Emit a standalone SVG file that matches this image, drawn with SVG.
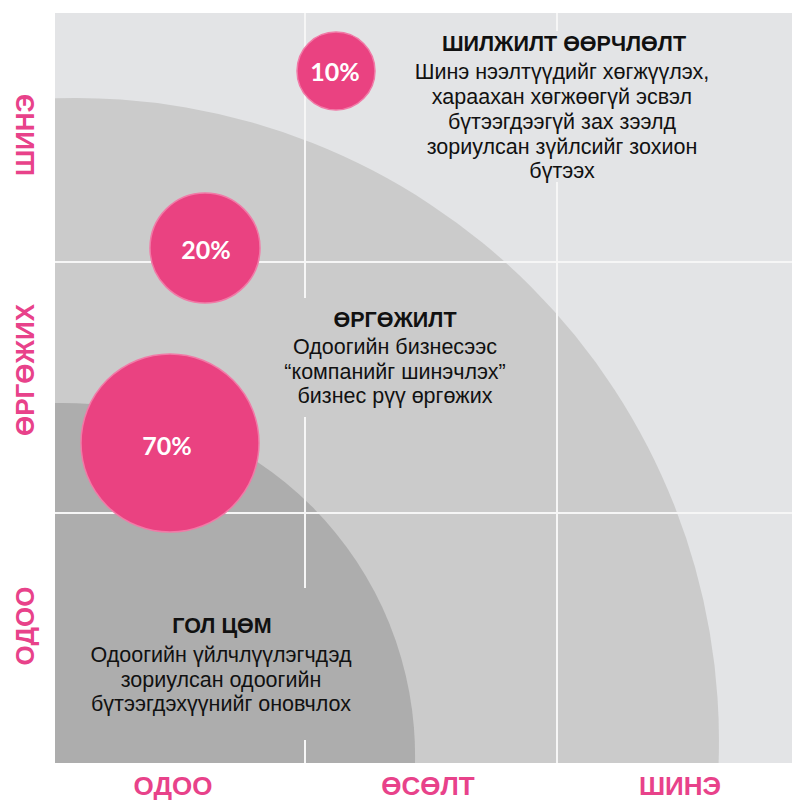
<svg xmlns="http://www.w3.org/2000/svg" width="792" height="800" viewBox="0 0 792 800">
<style>
.t{font-family:"Liberation Sans",Arial,sans-serif;font-size:21.5px;fill:#111;text-anchor:middle}
.b{font-weight:bold}
.ax{font-family:"Liberation Sans",Arial,sans-serif;font-size:26px;font-weight:bold;fill:#e8428a;text-anchor:middle}
.pc{font-family:Lato,"Open Sans",sans-serif;font-size:25px;font-weight:bold;fill:#ffffff;text-anchor:middle}
.bub{fill:#ea4281;stroke:#f17aa7;stroke-width:1.5}
.gl{stroke:#f6f6f6;stroke-width:2;fill:none}
</style>
<rect width="792" height="800" fill="#ffffff"/>
<g id="background">
<rect x="55" y="13" width="737" height="750" fill="#e3e4e6"/>
<path d="M55,763 L55,98.3 A643,643 0 0 1 718.6,763 Z" fill="#cbcbcb"/>
<path d="M55,763 L55,403 A353,353 0 0 1 415,763 Z" fill="#adadad"/>
</g>
<g id="connectors">
<line class="gl" x1="55" y1="262" x2="792" y2="262"/>
<line class="gl" x1="55" y1="513" x2="792" y2="513"/>
<line class="gl" x1="305" y1="13" x2="305" y2="298"/>
<line class="gl" x1="305" y1="417" x2="305" y2="588"/>
<line class="gl" x1="305" y1="740" x2="305" y2="763"/>
<line class="gl" x1="557" y1="13" x2="557" y2="31"/>
<line class="gl" x1="557" y1="182" x2="557" y2="763"/>
</g>
<g id="bubble-10">
<circle class="bub" cx="336" cy="71" r="39"/>
<text class="pc" x="335" y="81">10%</text>
</g>
<g id="bubble-20">
<circle class="bub" cx="205" cy="248" r="55"/>
<text class="pc" x="206" y="259">20%</text>
</g>
<g id="bubble-70">
<circle class="bub" cx="170" cy="443" r="89"/>
<text class="pc" x="167" y="455">70%</text>
</g>
<g id="transformational">
<text class="t b" x="564" y="51">ШИЛЖИЛТ ӨӨРЧЛӨЛТ</text>
<text class="t" x="562" y="79">Шинэ нээлтүүдийг хөгжүүлэх,</text>
<text class="t" x="562" y="104">хараахан хөгжөөгүй эсвэл</text>
<text class="t" x="562" y="129">бүтээгдээгүй зах зээлд</text>
<text class="t" x="562" y="154">зориулсан зүйлсийг зохион</text>
<text class="t" x="562" y="178">бүтээх</text>
</g>
<g id="adjacent">
<text class="t b" x="395" y="327">ӨРГӨЖИЛТ</text>
<text class="t" x="395" y="354">Одоогийн бизнесээс</text>
<text class="t" x="395" y="379">“компанийг шинэчлэх”</text>
<text class="t" x="395" y="403">бизнес рүү өргөжих</text>
</g>
<g id="core">
<text class="t b" x="222" y="633">ГОЛ ЦӨМ</text>
<text class="t" x="221" y="662">Одоогийн үйлчлүүлэгчдэд</text>
<text class="t" x="221" y="687">зориулсан одоогийн</text>
<text class="t" x="221" y="711">бүтээгдэхүүнийг оновчлох</text>
</g>
<g id="x-axis">
<text class="ax" x="173" y="795">ОДОО</text>
<text class="ax" x="428" y="795">ӨСӨЛТ</text>
<text class="ax" x="680" y="795">ШИНЭ</text>
</g>
<g id="y-axis">
<text class="ax" transform="translate(34,135) rotate(-90)">ШИНЭ</text>
<text class="ax" transform="translate(34,370) rotate(-90)">ӨРГӨЖИХ</text>
<text class="ax" transform="translate(34,626) rotate(-90)">ОДОО</text>
</g>
</svg>
